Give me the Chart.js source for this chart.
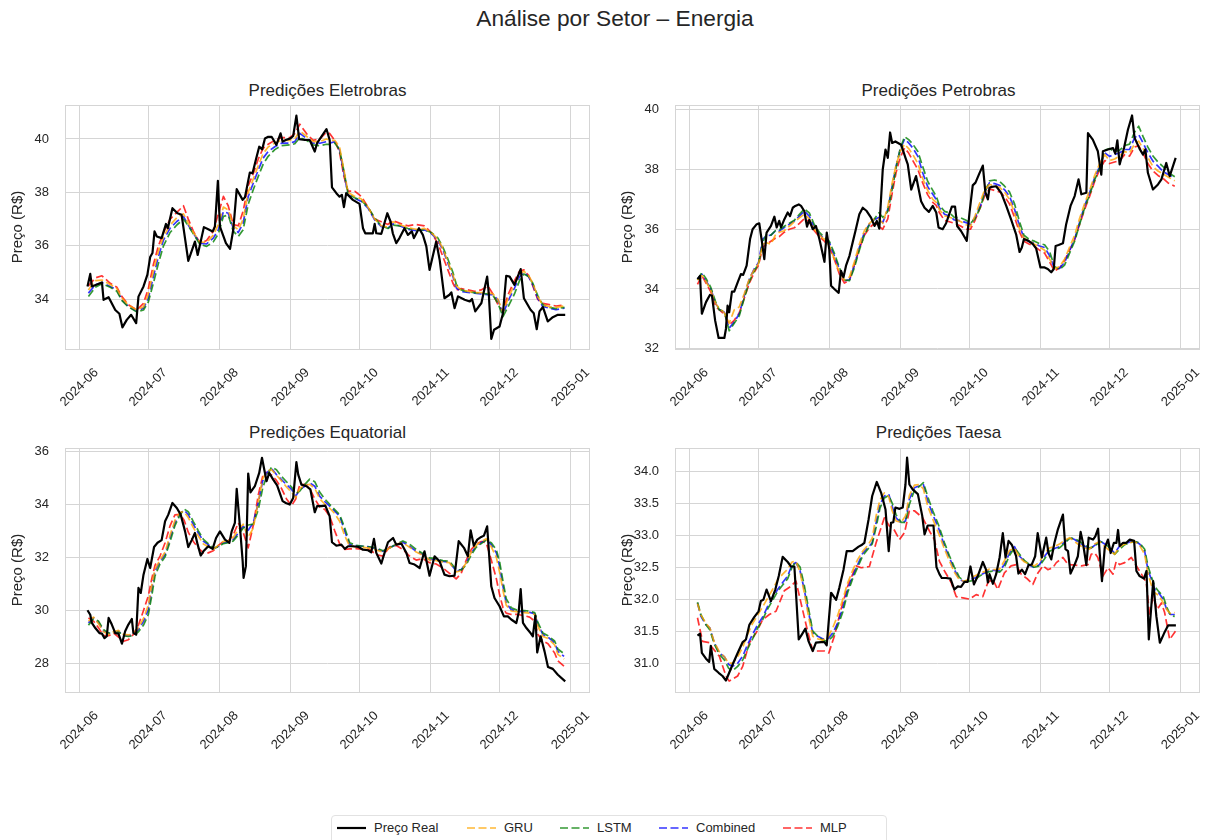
<!DOCTYPE html>
<html lang="pt-BR">
<head>
<meta charset="utf-8">
<title>Análise por Setor – Energia</title>
<script src="https://cdn.jsdelivr.net/npm/chart.js@4.4.1/dist/chart.umd.min.js"></script>
<style>
  body { margin: 0; width: 1210px; height: 840px; background: #fff; position: relative; overflow: hidden;
         font-family: "Liberation Sans", Arial, sans-serif; color: #262626; }
  #titulo { position: absolute; top: 5px; left: 10px; width: 1210px; text-align: center; font-size: 22.7px; }
  .subtitulo { position: absolute; width: 525px; text-align: center; font-size: 17px; }
  canvas { position: absolute; }
  #legenda { position: absolute; left: 331px; top: 815px; width: 556px; height: 40px; box-sizing: border-box;
             border: 1px solid #e2e2e2; border-radius: 4px; background: #fff; }
  .item { position: absolute; top: 4px; font-size: 13px; line-height: 16px; }
  .item svg { position: absolute; top: 6px; }
</style>
</head>
<body>
<div id="titulo">Análise por Setor – Energia</div>
<div class="subtitulo" style="left:65px; top:81px;">Predições Eletrobras</div>
<div class="subtitulo" style="left:676px; top:81px;">Predições Petrobras</div>
<div class="subtitulo" style="left:65px; top:423px;">Predições Equatorial</div>
<div class="subtitulo" style="left:676px; top:423px;">Predições Taesa</div>
<canvas id="g1" width="600" height="345" style="left:0; top:100px;"></canvas>
<canvas id="g2" width="600" height="345" style="left:610px; top:100px;"></canvas>
<canvas id="g3" width="600" height="345" style="left:0; top:443px;"></canvas>
<canvas id="g4" width="600" height="345" style="left:610px; top:443px;"></canvas>
<div id="legenda"></div>

<script>
// eixo x: dias desde 2024-06-01
const marcasMes = [0, 30, 61, 92, 122, 153, 183, 214];
const rotulosMes = ['2024-06', '2024-07', '2024-08', '2024-09', '2024-10', '2024-11', '2024-12', '2025-01'];

const ticksEletrobras = [34, 36, 38, 40];
const ticksPetrobras = [32, 34, 36, 38, 40];
const ticksEquatorial = [28, 30, 32, 34, 36];
const ticksTaesa = [31.0, 31.5, 32.0, 32.5, 33.0, 33.5, 34.0];

// ---------------- Eletrobras ----------------
const eletrobrasReal = [[3.6,34.48],[4.8,34.95],[5.5,34.48],[9.9,34.63],[10.6,33.98],[12.8,34.08],[15.7,33.6],[17.5,33.46],[18.8,32.95],[20.7,33.23],[22.6,33.42],[24.8,33.11],[25.8,34.1],[28,34.48],[29.7,34.92],[30.9,35.58],[31.9,35.73],[32.8,36.54],[33.8,36.35],[35.9,36.29],[37.8,36.82],[38.6,36.66],[40.6,37.41],[42.8,37.22],[44.6,37.16],[47.5,35.44],[50.4,36.16],[51.6,35.66],[54.3,36.7],[56.2,36.62],[58.1,36.54],[59.1,36.72],[60.4,38.43],[61.3,36.72],[63.9,36.1],[65.7,35.89],[67.1,36.6],[68.6,38.12],[71.2,37.72],[72.2,37.82],[74.3,38.74],[75.5,38.72],[77,39.24],[78.4,39.71],[79.7,39.61],[80.9,40.02],[82.3,40.08],[83.8,40.08],[85.9,39.78],[87.7,40.21],[88.6,39.9],[90,39.96],[92,40.02],[93.2,40.11],[94.6,40.87],[95.8,39.99],[98.3,39.96],[100.4,39.96],[102.6,39.53],[103.6,39.84],[105.5,40.09],[107.7,40.37],[109.1,39.96],[110.1,38.19],[112,37.97],[113.4,37.84],[114.4,37.91],[115.3,37.45],[116.3,37.97],[119.2,37.72],[122.1,37.57],[123.6,36.66],[124.6,36.47],[127.9,36.47],[128.7,36.82],[129.4,36.47],[131.6,36.45],[134.2,37.22],[135.6,36.91],[136.6,36.47],[138.1,36.1],[139.5,36.29],[141.7,36.66],[143.2,36.41],[144.9,36.54],[145.8,36.29],[148,36.66],[149.7,36.41],[151.2,35.98],[152.6,35.1],[155.5,36.16],[157,35.48],[159.1,34.04],[161.3,34.17],[162.1,34.26],[163.5,33.67],[165,34.11],[167.9,33.98],[170.1,33.92],[171.1,34.01],[172.5,33.55],[175.2,33.86],[177.7,34.85],[178.4,34.23],[179.5,32.52],[180.7,32.86],[183.1,32.98],[184.6,33.48],[186,34.88],[187.5,34.85],[189.6,34.54],[192.3,35.13],[193.7,34.04],[196.6,33.61],[198,33.48],[199.3,32.88],[200.5,33.55],[202,33.71],[204.1,33.17],[206.3,33.33],[208.5,33.42],[211.7,33.42]];
const eletrobrasGru = [[4,34.35],[7,34.7],[9.9,34.72],[13.5,34.55],[16.4,34.4],[18.6,34.05],[21.4,33.78],[25.1,33.6],[28,33.72],[30.1,34.2],[32.3,35.05],[34.5,35.8],[36.7,36.35],[39.6,36.78],[42.5,37.05],[45.4,37.2],[47.5,36.85],[49.7,36.5],[52.6,36.15],[55.5,36.12],[58.4,36.4],[60.6,36.8],[62.8,37.45],[64.9,37.35],[67.1,36.75],[69.3,36.6],[71.4,37.0],[73.6,38.0],[75.8,38.5],[78,39.0],[80.1,39.45],[82.3,39.7],[85.2,39.85],[88.1,39.95],[91.7,39.95],[93.9,40.0],[96.1,40.3],[99,40.1],[101.9,39.9],[104.8,39.9],[107.7,40.0],[109.1,39.95],[111.3,39.95],[113.4,39.7],[115.3,38.85],[117.1,38.0],[120,37.85],[122.9,37.75],[125.8,37.45],[128.7,37.0],[131.6,36.75],[134.5,36.7],[136.6,36.9],[139.5,36.8],[143.2,36.68],[146.8,36.62],[150.4,36.65],[153.3,36.5],[156.2,36.25],[158.4,35.9],[160.6,35.4],[162.8,34.9],[164.3,34.5],[166.4,34.35],[169.3,34.3],[172.2,34.25],[175.1,34.25],[178,34.25],[180.2,34.2],[182.4,34.0],[184.6,33.5],[186.7,34.0],[189.6,34.55],[191.8,34.95],[193.7,35.05],[195.7,34.9],[197.6,34.6],[199.7,34.1],[201.9,33.8],[204.8,33.72],[207.7,33.7],[211.4,33.75]];
const eletrobrasLstm = [[4,34.1],[7,34.45],[9.9,34.58],[13.5,34.45],[16.4,34.3],[18.6,33.95],[21.4,33.72],[25.1,33.52],[28,33.6],[30.1,33.9],[32.3,34.6],[34.5,35.35],[36.7,36.0],[39.6,36.5],[42.5,36.78],[45.4,37.0],[47.5,36.75],[49.7,36.45],[52.6,36.05],[55.5,35.98],[58.4,36.15],[60.6,36.45],[62.8,37.1],[64.9,37.15],[67.1,36.55],[69.3,36.35],[71.4,36.6],[73.6,37.55],[75.8,38.1],[78,38.6],[80.1,39.05],[82.3,39.35],[85.2,39.6],[88.1,39.75],[91.7,39.78],[93.9,39.82],[96.1,40.05],[99,39.95],[101.9,39.78],[104.8,39.75],[107.7,39.8],[109.1,39.8],[111.3,39.85],[113.4,39.6],[115.3,38.8],[117.1,37.95],[120,37.8],[122.9,37.7],[125.8,37.45],[128.7,37.05],[131.6,36.75],[134.5,36.65],[136.6,36.78],[139.5,36.75],[143.2,36.65],[146.8,36.6],[150.4,36.6],[153.3,36.5],[156.2,36.3],[158.4,35.95],[160.6,35.5],[162.8,35.0],[164.3,34.55],[166.4,34.35],[169.3,34.28],[172.2,34.25],[175.1,34.22],[178,34.2],[180.2,34.15],[182.4,33.85],[184.6,33.35],[186.7,33.7],[189.6,34.2],[191.8,34.7],[193.7,34.95],[195.7,34.85],[197.6,34.6],[199.7,34.15],[201.9,33.8],[204.8,33.7],[207.7,33.65],[211.4,33.7]];
const eletrobrasCombined = [[4,34.23],[7,34.54],[9.9,34.63],[13.5,34.48],[16.4,34.35],[18.6,33.98],[21.4,33.73],[25.1,33.55],[28,33.67],[30.1,34.04],[32.3,34.85],[34.5,35.6],[36.7,36.22],[39.6,36.66],[42.5,36.91],[45.4,37.1],[47.5,36.78],[49.7,36.47],[52.6,36.1],[55.5,36.07],[58.4,36.29],[60.6,36.6],[62.8,37.28],[64.9,37.22],[67.1,36.66],[69.3,36.5],[71.4,36.85],[73.6,37.84],[75.8,38.34],[78,38.84],[80.1,39.28],[82.3,39.53],[85.2,39.71],[88.1,39.84],[91.7,39.84],[93.9,39.9],[96.1,40.21],[99,40.02],[101.9,39.84],[104.8,39.84],[107.7,39.9],[109.1,39.84],[111.3,39.9],[113.4,39.59],[115.3,38.72],[117.1,37.91],[120,37.78],[122.9,37.66],[125.8,37.41],[128.7,36.97],[131.6,36.72],[134.5,36.66],[136.6,36.82],[139.5,36.75],[143.2,36.62],[146.8,36.57],[150.4,36.6],[153.3,36.47],[156.2,36.22],[158.4,35.85],[160.6,35.35],[162.8,34.85],[164.3,34.42],[166.4,34.29],[169.3,34.26],[172.2,34.23],[175.1,34.2],[178,34.17],[180.2,34.17],[182.4,33.98],[184.6,33.42],[186.7,33.92],[189.6,34.42],[191.8,34.85],[193.7,35.0],[195.7,34.85],[197.6,34.54],[199.7,34.04],[201.9,33.73],[204.8,33.67],[207.7,33.61],[211.4,33.67]];
const eletrobrasMlp = [[4,34.5],[7,34.8],[9.9,34.88],[13.5,34.6],[16.4,34.45],[18.6,34.1],[21.4,33.8],[25.1,33.6],[28,33.85],[30.1,34.4],[32.3,35.3],[34.5,36.0],[36.7,36.5],[39.6,37.0],[42.5,37.25],[45.4,37.5],[47.5,37.0],[49.7,36.55],[52.6,36.1],[55.5,36.2],[58.4,36.55],[60.6,37.2],[62.8,37.85],[64.9,37.5],[67.1,36.8],[69.3,36.75],[71.4,37.3],[73.6,38.25],[75.8,38.7],[78,39.25],[80.1,39.65],[82.3,39.8],[85.2,39.95],[88.1,40.05],[91.7,40.05],[93.9,40.2],[96.1,40.55],[99,40.2],[101.9,39.95],[104.8,40.0],[107.7,40.25],[109.1,40.2],[111.3,39.95],[113.4,39.5],[115.3,38.6],[117.1,38.05],[120,38.05],[122.9,37.85],[125.8,37.45],[128.7,37.0],[131.6,36.9],[134.5,36.8],[136.6,36.95],[139.5,36.85],[143.2,36.75],[146.8,36.8],[150.4,36.75],[153.3,36.5],[156.2,36.1],[158.4,35.6],[160.6,35.1],[162.8,34.6],[164.3,34.35],[166.4,34.4],[169.3,34.35],[172.2,34.3],[175.1,34.35],[178,34.5],[180.2,34.2],[182.4,33.8],[184.6,33.55],[186.7,34.15],[189.6,34.7],[191.8,35.05],[193.7,35.1],[195.7,34.9],[197.6,34.5],[199.7,34.0],[201.9,33.85],[204.8,33.8],[207.7,33.75],[211.4,33.78]];

// ---------------- Petrobras ----------------
const petrobrasReal = [[3.6,34.33],[4.7,34.44],[5.5,33.17],[7.3,33.56],[9,33.8],[9.9,33.78],[11.3,32.94],[12.8,32.36],[15.3,32.36],[16,32.67],[16.7,33.44],[17.4,33.22],[18.6,33.91],[19.6,33.91],[21.1,34.22],[22.5,34.5],[23.5,34.47],[25,34.78],[26.5,35.67],[27.6,36.0],[29.4,36.17],[30.5,36.2],[31.7,35.56],[32.7,35.0],[33.7,35.89],[35.6,36.11],[37.1,36.42],[38.1,36.06],[39.2,36.28],[40,36.06],[41.4,36.33],[42.9,36.56],[43.9,36.44],[45.1,36.72],[46.2,36.78],[47.7,36.83],[48.7,36.78],[50.1,36.61],[51.3,36.09],[52.3,36.31],[53.8,36.0],[55.2,36.11],[56.7,35.67],[58.9,34.91],[59.9,35.89],[61,35.33],[61.8,34.11],[63.2,34.0],[65.1,33.87],[66.1,34.61],[67.2,34.39],[68.3,34.78],[69.8,35.11],[71.2,35.56],[72.4,35.94],[74.1,36.5],[75.6,36.72],[77.3,36.61],[79.2,36.39],[80.7,36.11],[81.7,36.28],[82.8,36.02],[84.3,38.0],[85.5,38.67],[86.5,38.39],[87.5,39.24],[88.4,38.89],[89.8,38.94],[92.3,38.83],[94.2,38.39],[95.2,38.17],[96.7,37.33],[98.8,37.78],[101,36.94],[102.5,36.72],[104.4,36.58],[106.1,36.78],[107.6,36.56],[108.6,36.06],[110.4,36.0],[111.9,36.2],[114.4,36.76],[115.8,36.76],[116.7,36.11],[118.4,35.94],[120.9,35.61],[122.1,36.56],[123.5,37.47],[124.7,37.56],[126.4,37.87],[127.9,38.13],[129,37.24],[130.1,37.0],[130.8,37.39],[131.8,37.42],[133.7,37.44],[135.9,37.22],[138.1,36.78],[140.2,36.33],[142.4,35.83],[143.9,35.24],[144.9,35.39],[145.8,35.67],[147.8,35.61],[149.7,35.5],[151.1,35.36],[153,34.72],[154.8,34.72],[156.2,34.67],[157.7,34.56],[158.8,34.67],[159.6,35.44],[160.9,35.47],[162.8,35.53],[164.2,36.17],[166.1,36.78],[167.9,37.11],[169.6,37.67],[170.8,37.17],[173,37.22],[173.7,39.22],[175.8,39.0],[178,38.61],[179.5,37.83],[180.2,38.61],[182.4,38.67],[184.6,38.72],[185.6,38.53],[186.5,38.98],[187.5,38.17],[189.4,38.72],[191.1,39.33],[192.9,39.81],[194,39.06],[196.2,38.69],[197.7,38.5],[198.7,38.67],[199.8,37.89],[202,37.33],[204.2,37.5],[205.7,37.67],[207.8,38.22],[209.3,37.78],[211.9,38.39]];
const petrobrasGru = [[3.6,34.3],[5.5,34.45],[7.3,34.25],[9.4,33.95],[11.6,33.5],[13.1,33.35],[15.3,33.2],[17.4,32.85],[19.6,33.3],[21.8,33.4],[24,33.85],[26.2,34.35],[28.3,34.65],[30.2,34.85],[32,35.5],[33.7,35.55],[35.6,35.5],[37.5,35.8],[39.2,35.9],[41.4,35.95],[43.6,36.1],[45.8,36.25],[48,36.38],[50.1,36.5],[52.3,36.35],[54.5,36.0],[56.7,35.8],[58.9,35.65],[61,35.45],[63.2,35.0],[65.4,34.55],[67.6,34.3],[69.8,34.4],[71.9,34.9],[74.1,35.5],[76.3,35.95],[78.5,36.2],[80.7,36.35],[82.6,36.35],[84.3,36.2],[86.5,36.75],[88.4,37.55],[90.1,38.15],[91.9,38.6],[93.8,38.85],[95.6,38.7],[97.4,38.5],[99.6,38.2],[101.7,37.7],[103.9,37.3],[106.1,37.0],[107.6,36.9],[109,36.65],[111.2,36.45],[113.3,36.4],[115.5,36.35],[118.4,36.25],[120.6,36.15],[122.5,36.1],[124.5,36.45],[126.9,36.95],[128.6,37.3],[130.8,37.5],[133,37.45],[135.2,37.4],[137.3,37.25],[139.5,37.0],[141.7,36.55],[143.9,36.0],[145.8,35.7],[148.2,35.6],[150.4,35.5],[152.6,35.4],[154.8,35.3],[157,35.0],[159.1,34.68],[161.3,34.75],[163.5,35.0],[165.7,35.4],[167.9,35.8],[170,36.35],[172.2,36.85],[174.4,37.3],[176.6,37.8],[178.8,38.2],[181,38.5],[183.1,38.3],[185.3,38.35],[187.5,38.45],[189.7,38.6],[191.8,38.55],[194,38.85],[195.8,38.95],[197.7,38.7],[199.8,38.4],[202,38.1],[204.2,37.95],[206.4,37.85],[208.6,37.75],[211.5,37.62]];
const petrobrasLstm = [[3.6,34.3],[5.5,34.55],[7.3,34.35],[9.4,34.05],[11.6,33.55],[13.1,33.3],[15.3,33.25],[17.4,32.6],[19.6,32.85],[21.8,33.1],[24,33.7],[26.2,34.25],[28.3,34.6],[30.2,34.85],[32,35.55],[33.7,35.85],[35.6,35.8],[37.5,35.95],[39.2,35.98],[41.4,36.1],[43.6,36.2],[45.8,36.3],[48,36.5],[50.1,36.68],[52.3,36.55],[54.5,36.15],[56.7,35.9],[58.9,35.72],[61,35.6],[63.2,35.2],[65.4,34.72],[67.6,34.3],[69.8,34.28],[71.9,34.7],[74.1,35.3],[76.3,35.8],[78.5,36.15],[80.7,36.35],[82.6,36.55],[84.3,36.4],[86.5,36.6],[88.4,37.35],[90.1,38.05],[91.9,38.7],[93.8,39.1],[95.6,39.0],[97.4,38.85],[99.6,38.6],[101.7,38.1],[103.9,37.6],[106.1,37.3],[107.6,37.1],[109,36.8],[111.2,36.6],[113.3,36.55],[115.5,36.4],[118.4,36.38],[120.6,36.3],[122.5,36.2],[124.5,36.35],[126.9,36.75],[128.6,37.2],[130.8,37.62],[133,37.65],[135.2,37.6],[137.3,37.45],[139.5,37.25],[141.7,36.85],[143.9,36.25],[145.8,35.8],[148.2,35.65],[150.4,35.6],[152.6,35.52],[154.8,35.48],[157,35.25],[159.1,34.75],[161.3,34.65],[163.5,34.8],[165.7,35.2],[167.9,35.6],[170,36.15],[172.2,36.7],[174.4,37.15],[176.6,37.65],[178.8,38.05],[181,38.65],[183.1,38.7],[185.3,38.6],[187.5,38.65],[189.7,38.8],[191.8,38.85],[194,39.25],[195.8,39.45],[197.7,39.1],[199.8,38.75],[202,38.45],[204.2,38.25],[206.4,38.1],[208.6,37.9],[211.5,37.76]];
const petrobrasCombined = [[3.6,34.33],[5.5,34.5],[7.3,34.28],[9.4,34.0],[11.6,33.5],[13.1,33.31],[15.3,33.22],[17.4,32.69],[19.6,32.89],[21.8,33.17],[24,33.78],[26.2,34.33],[28.3,34.67],[30.2,34.89],[32,35.67],[33.7,35.78],[35.6,35.8],[37.5,35.94],[39.2,35.94],[41.4,36.06],[43.6,36.17],[45.8,36.28],[48,36.44],[50.1,36.61],[52.3,36.44],[54.5,36.06],[56.7,35.83],[58.9,35.67],[61,35.56],[63.2,35.11],[65.4,34.67],[67.6,34.28],[69.8,34.31],[71.9,34.78],[74.1,35.39],[76.3,35.89],[78.5,36.17],[80.7,36.33],[82.6,36.39],[84.3,36.22],[86.5,36.67],[88.4,37.44],[90.1,38.11],[91.9,38.67],[93.8,39.02],[95.6,38.89],[97.4,38.72],[99.6,38.44],[101.7,37.89],[103.9,37.42],[106.1,37.17],[107.6,37.0],[109,36.72],[111.2,36.5],[113.3,36.44],[115.5,36.31],[118.4,36.28],[120.6,36.22],[122.5,36.17],[124.5,36.39],[126.9,36.8],[128.6,37.22],[130.8,37.56],[133,37.53],[135.2,37.47],[137.3,37.33],[139.5,37.11],[141.7,36.67],[143.9,36.11],[145.8,35.72],[148.2,35.58],[150.4,35.53],[152.6,35.44],[154.8,35.39],[157,35.11],[159.1,34.69],[161.3,34.69],[163.5,34.89],[165.7,35.28],[167.9,35.67],[170,36.22],[172.2,36.78],[174.4,37.22],[176.6,37.72],[178.8,38.11],[181,38.56],[183.1,38.44],[185.3,38.5],[187.5,38.56],[189.7,38.67],[191.8,38.67],[194,39.06],[195.8,39.17],[197.7,38.89],[199.8,38.56],[202,38.28],[204.2,38.11],[206.4,37.94],[208.6,37.83],[211.5,37.72]];
const petrobrasMlp = [[3.6,34.15],[5.5,34.45],[7.3,34.2],[9.4,33.9],[11.6,33.4],[13.1,33.3],[15.3,33.15],[17.4,32.8],[19.6,32.95],[21.8,33.2],[24,33.7],[26.2,34.2],[28.3,34.55],[30.2,34.8],[32,35.4],[33.7,35.5],[35.6,35.6],[37.5,35.7],[39.2,35.75],[41.4,35.9],[43.6,36.0],[45.8,36.05],[48,36.2],[50.1,36.35],[52.3,36.25],[54.5,35.95],[56.7,35.75],[58.9,35.6],[61,35.4],[63.2,35.0],[65.4,34.5],[67.6,34.2],[69.8,34.3],[71.9,34.8],[74.1,35.35],[76.3,35.8],[78.5,36.05],[80.7,36.2],[82.6,36.1],[84.3,36.0],[86.5,36.35],[88.4,37.2],[90.1,37.9],[91.9,38.4],[93.8,38.72],[95.6,38.55],[97.4,38.3],[99.6,38.0],[101.7,37.55],[103.9,37.15],[106.1,36.9],[107.6,36.8],[109,36.55],[111.2,36.3],[113.3,36.25],[115.5,36.2],[118.4,36.1],[120.6,36.0],[122.5,36.0],[124.5,36.3],[126.9,36.75],[128.6,37.1],[130.8,37.35],[133,37.3],[135.2,37.25],[137.3,37.1],[139.5,36.85],[141.7,36.4],[143.9,35.9],[145.8,35.6],[148.2,35.5],[150.4,35.42],[152.6,35.3],[154.8,35.2],[157,34.9],[159.1,34.6],[161.3,34.7],[163.5,34.95],[165.7,35.3],[167.9,35.65],[170,36.15],[172.2,36.65],[174.4,37.1],[176.6,37.6],[178.8,38.0],[181,38.3],[183.1,38.2],[185.3,38.25],[187.5,38.3],[189.7,38.5],[191.8,38.45],[194,38.75],[195.8,38.8],[197.7,38.55],[199.8,38.2],[202,37.95],[204.2,37.8],[206.4,37.7],[208.6,37.55],[211.5,37.44]];

// ---------------- Equatorial ----------------
const equatorialReal = [[3.6,30.01],[4.8,29.84],[5.5,29.53],[7,29.34],[8.8,29.15],[9.9,29.13],[11,28.96],[12,29.03],[12.8,29.72],[14.2,29.47],[15.7,29.15],[17.1,29.13],[18.6,28.75],[20,29.22],[21.4,29.47],[22.9,29.68],[23.6,29.15],[24.8,29.09],[25.8,30.85],[26.8,30.66],[28,31.35],[29.7,31.94],[30.9,31.6],[32.6,32.39],[34.1,32.55],[35.9,32.65],[37.4,33.36],[38.8,33.61],[40.6,34.05],[42.5,33.86],[44.2,33.61],[46.1,32.98],[47.5,32.39],[49,32.65],[50.4,32.92],[51.6,32.48],[52.9,32.07],[54.1,32.23],[56.2,32.42],[58.1,32.32],[59.6,32.73],[61.3,32.98],[63.5,32.67],[65.4,32.55],[66.4,32.98],[67.8,33.3],[68.6,34.58],[70,33.17],[71.2,31.85],[71.6,31.23],[72.6,31.67],[73.6,35.16],[74.6,34.45],[76.5,34.68],[78.4,35.18],[79.6,35.75],[80.9,35.18],[81.6,34.87],[82.8,35.18],[84.5,34.93],[86.2,34.71],[88.6,34.12],[90,34.05],[91.7,33.99],[93.2,34.24],[94.6,35.59],[95.4,35.12],[96.8,34.74],[99,34.68],[100.7,34.56],[102.6,33.7],[103.6,33.93],[105.5,33.93],[107.2,33.95],[109.1,33.55],[110.1,32.57],[112,32.44],[114.2,32.48],[115.7,32.32],[117.1,32.42],[119.2,32.42],[121.7,32.39],[123.6,32.29],[125.8,32.27],[127.2,32.19],[128.4,32.7],[129.4,32.17],[131.6,31.77],[133,32.17],[134.5,32.57],[136.7,32.73],[138.1,32.48],[140.3,32.52],[142.5,32.17],[143.9,31.79],[146.1,31.73],[148.3,31.6],[150.4,32.23],[152.6,31.31],[154.8,32.04],[157,31.85],[159.1,31.35],[161.3,31.29],[163.5,31.31],[165.3,32.61],[167.6,32.36],[169.3,32.04],[170.5,33.02],[171.9,32.44],[173.4,32.67],[175.1,32.77],[176.3,32.82],[177.7,33.17],[178.8,31.79],[179.5,30.91],[180.9,30.47],[183.1,30.16],[185,29.78],[186.7,29.78],[188.2,29.66],[190.4,29.53],[191.4,29.91],[192.3,30.81],[193.3,29.53],[194.8,29.34],[196.6,29.15],[197.6,29.03],[198.7,29.81],[199.5,28.42],[201,29.03],[202.7,28.46],[204.2,27.87],[206.3,27.8],[208.5,27.58],[211.7,27.33]];
const equatorialGru = [[4,29.6],[6.2,29.75],[8.4,29.5],[10.6,29.2],[12.8,29.1],[14.9,29.2],[17.1,29.25],[19.3,29.1],[21.4,29.08],[23.6,29.12],[25.8,29.35],[28,29.7],[30.1,30.2],[31.6,30.95],[33,31.55],[35.2,31.9],[37.4,32.2],[39.6,32.85],[41.7,33.4],[43.9,33.7],[45.7,33.72],[47.5,33.5],[49.7,33.12],[51.9,32.8],[54.1,32.5],[56.2,32.4],[58.4,32.3],[60.6,32.45],[62.8,32.6],[64.9,32.62],[67.1,32.75],[69.3,33.05],[71.4,33.25],[73.6,32.75],[75.8,33.1],[78,34.1],[79.9,34.95],[81.6,35.25],[83.8,35.3],[85.9,35.1],[88.1,34.88],[90.3,34.65],[92.5,34.45],[94.3,34.25],[96.1,34.6],[98.3,34.72],[100.4,34.75],[102.6,34.6],[104.8,34.2],[107,34.0],[109.1,33.85],[111.3,33.65],[113.5,33.35],[115.7,32.8],[117.8,32.42],[120.7,32.4],[123.6,32.38],[126.5,32.35],[129.4,32.28],[132.3,32.2],[135.2,32.35],[138.1,32.5],[141,32.55],[143.9,32.38],[146.8,32.2],[149.7,32.08],[152.6,31.9],[155.5,31.88],[158.4,31.82],[161.3,31.8],[164.2,31.45],[166.4,31.5],[168.6,31.8],[170.8,32.2],[172.9,32.45],[175.1,32.6],[177.3,32.7],[179.5,32.4],[181.7,32.0],[183.1,31.45],[184.6,30.75],[186,30.2],[188.2,29.98],[191.1,29.95],[194,29.92],[196.2,29.9],[198.4,29.85],[199.8,29.4],[202,29.02],[204.2,28.95],[207.1,28.7],[208.5,28.35],[211.2,28.17]];
const equatorialLstm = [[4,29.45],[6.2,29.68],[8.4,29.6],[10.6,29.28],[12.8,29.15],[14.9,29.15],[17.1,29.2],[19.3,29.05],[21.4,29.02],[23.6,29.05],[25.8,29.2],[28,29.45],[30.1,29.85],[31.6,30.55],[33,31.3],[35.2,31.75],[37.4,32.02],[39.6,32.6],[41.7,33.2],[43.9,33.6],[45.7,33.82],[47.5,33.72],[49.7,33.35],[51.9,33.0],[54.1,32.68],[56.2,32.52],[58.4,32.35],[60.6,32.4],[62.8,32.52],[64.9,32.55],[67.1,32.62],[69.3,32.85],[71.4,33.1],[73.6,33.22],[75.8,33.25],[78,33.8],[79.9,34.6],[81.6,35.05],[83.8,35.4],[85.9,35.3],[88.1,35.05],[90.3,34.85],[92.5,34.65],[94.3,34.4],[96.1,34.5],[98.3,34.75],[100.4,34.95],[102.6,34.85],[104.8,34.45],[107,34.2],[109.1,34.0],[111.3,33.8],[113.5,33.6],[115.7,33.1],[117.8,32.55],[120.7,32.45],[123.6,32.42],[126.5,32.4],[129.4,32.35],[132.3,32.25],[135.2,32.35],[138.1,32.5],[141,32.62],[143.9,32.5],[146.8,32.3],[149.7,32.15],[152.6,31.98],[155.5,31.95],[158.4,31.88],[161.3,31.85],[164.2,31.55],[166.4,31.52],[168.6,31.72],[170.8,32.1],[172.9,32.38],[175.1,32.52],[177.3,32.65],[179.5,32.55],[181.7,32.28],[183.1,31.85],[184.6,31.1],[186,30.45],[188.2,30.1],[191.1,30.0],[194,30.0],[196.2,29.97],[198.4,29.92],[199.8,29.55],[202,29.15],[204.2,29.05],[207.1,28.85],[208.5,28.55],[211.2,28.37]];
const equatorialCombined = [[4,29.53],[6.2,29.72],[8.4,29.55],[10.6,29.22],[12.8,29.13],[14.9,29.18],[17.1,29.22],[19.3,29.05],[21.4,29.05],[23.6,29.09],[25.8,29.28],[28,29.59],[30.1,30.03],[31.6,30.79],[33,31.48],[35.2,31.85],[37.4,32.11],[39.6,32.73],[41.7,33.3],[43.9,33.65],[45.7,33.78],[47.5,33.61],[49.7,33.24],[51.9,32.92],[54.1,32.61],[56.2,32.48],[58.4,32.32],[60.6,32.42],[62.8,32.55],[64.9,32.57],[67.1,32.67],[69.3,32.92],[71.4,33.17],[73.6,33.02],[75.8,33.3],[78,34.05],[79.9,34.87],[81.6,35.18],[83.8,35.35],[85.9,35.12],[88.1,34.93],[90.3,34.74],[92.5,34.56],[94.3,34.3],[96.1,34.56],[98.3,34.68],[100.4,34.81],[102.6,34.68],[104.8,34.3],[107,34.1],[109.1,33.93],[111.3,33.74],[113.5,33.55],[115.7,32.98],[117.8,32.48],[120.7,32.44],[123.6,32.42],[126.5,32.39],[129.4,32.32],[132.3,32.23],[135.2,32.36],[138.1,32.48],[141,32.57],[143.9,32.42],[146.8,32.23],[149.7,32.11],[152.6,31.92],[155.5,31.92],[158.4,31.85],[161.3,31.82],[164.2,31.48],[166.4,31.54],[168.6,31.79],[170.8,32.17],[172.9,32.42],[175.1,32.55],[177.3,32.67],[179.5,32.48],[181.7,32.17],[183.1,31.67],[184.6,30.91],[186,30.28],[188.2,30.03],[191.1,29.97],[194,29.97],[196.2,29.93],[198.4,29.88],[199.8,29.47],[202,29.09],[204.2,29.0],[207.1,28.78],[208.5,28.46],[211.2,28.27]];
const equatorialMlp = [[4,29.72],[6.2,29.6],[8.4,29.35],[10.6,29.05],[12.8,29.05],[14.9,29.15],[17.1,29.0],[19.3,28.84],[21.4,28.9],[23.6,29.1],[25.8,29.45],[28,30.0],[30.1,30.55],[31.6,31.2],[33,31.7],[35.2,32.05],[37.4,32.55],[39.6,33.2],[41.7,33.6],[43.9,33.62],[45.7,33.4],[47.5,32.95],[49.7,32.6],[51.9,32.35],[54.1,32.17],[56.2,32.17],[58.4,32.25],[60.6,32.45],[62.8,32.6],[64.9,32.62],[67.1,32.85],[69.3,33.3],[71.4,32.95],[73.6,32.36],[75.8,33.2],[78,34.35],[79.9,35.05],[81.6,35.2],[83.8,35.1],[85.9,34.9],[88.1,34.6],[90.3,34.2],[92.5,33.95],[94.3,34.2],[96.1,34.74],[98.3,34.75],[100.4,34.6],[102.6,34.2],[104.8,33.9],[107,33.8],[109.1,33.55],[111.3,33.0],[113.5,32.5],[115.7,32.3],[117.8,32.32],[120.7,32.33],[123.6,32.3],[126.5,32.3],[129.4,32.1],[132.3,32.05],[135.2,32.4],[138.1,32.45],[141,32.3],[143.9,32.05],[146.8,31.9],[149.7,31.95],[152.6,31.8],[155.5,31.75],[158.4,31.6],[161.3,31.4],[164.2,31.19],[166.4,31.4],[168.6,31.9],[170.8,32.3],[172.9,32.5],[175.1,32.6],[177.3,32.55],[179.5,31.9],[181.7,31.2],[183.1,30.6],[184.6,30.1],[186,29.9],[188.2,29.85],[191.1,29.85],[194,29.8],[196.2,29.75],[198.4,29.6],[199.8,29.1],[202,28.85],[204.2,28.75],[207.1,28.4],[208.5,28.1],[211.2,27.9]];

// ---------------- Taesa ----------------
const taesaReal = [[3.6,31.43],[4.7,31.46],[5.5,31.16],[7.3,31.07],[8.7,31.02],[9.4,31.27],[10.9,30.91],[12.8,30.85],[14.5,30.8],[16,30.73],[17.4,30.85],[18.9,30.98],[21.1,31.16],[23.3,31.33],[24.7,31.37],[26.2,31.6],[28.3,31.72],[30.2,31.81],[31.2,31.97],[32.3,31.99],[33.7,32.15],[35.6,31.97],[37.5,32.15],[39,32.36],[40.7,32.66],[42.9,32.58],[44.3,32.51],[45.8,32.51],[46.5,32.1],[47.7,31.37],[49.1,31.45],[50.6,31.54],[52,31.34],[53.8,31.19],[55.2,31.32],[57.4,31.33],[58.9,31.33],[59.9,31.28],[61.8,32.1],[64,31.99],[65.4,32.18],[67.2,32.46],[68.6,32.75],[71.2,32.75],[73.8,32.82],[75.3,32.85],[76.3,32.88],[78.1,33.24],[79.7,33.61],[81.7,33.83],[83.6,33.66],[85.5,33.4],[86.9,32.75],[87.9,33.19],[88.9,33.2],[89.8,33.43],[91.6,33.41],[93,33.43],[94.2,33.79],[94.9,34.21],[95.9,33.79],[97.4,33.71],[99.6,33.64],[101.5,33.3],[102.5,33.01],[103.9,33.15],[106.4,33.15],[107.7,32.5],[109,32.39],[110,32.33],[111.9,32.33],[113.8,32.32],[115.5,32.15],[117,32.2],[118.4,32.19],[119.9,32.27],[121.3,32.27],[122.5,32.51],[124,32.23],[125.7,32.36],[127.9,32.58],[129.3,32.46],[130.1,32.26],[130.8,32.39],[132.3,32.24],[133.7,32.39],[135.2,32.65],[136.6,33.03],[137.8,32.65],[139.1,32.91],[140.5,32.85],[142.4,32.67],[143.4,32.4],[144.9,32.46],[146.3,32.39],[147.8,32.53],[149.2,32.54],[150.7,32.67],[151.8,33.03],[153.6,32.65],[155.5,32.96],[156.5,32.72],[157.7,32.62],[159.1,32.88],[160.6,33.09],[162.8,33.32],[163.9,32.78],[165,32.75],[166.1,32.4],[167.9,32.54],[169.3,32.67],[170.5,33.05],[171.5,32.88],[173,32.53],[174,32.96],[175.9,32.93],[176.9,32.98],[178.1,33.1],[178.8,32.72],[179.8,32.28],[181,32.8],[182.4,32.93],[183.6,32.72],[185,32.88],[186.1,32.88],[186.8,33.08],[187.5,32.83],[189,32.88],[190.4,32.88],[191.9,32.93],[193.8,32.91],[194.8,32.44],[196.2,32.36],[198.1,32.32],[199.2,32.44],[200.2,31.37],[202.1,32.28],[203.5,31.73],[205,31.32],[206.9,31.47],[208.6,31.59],[210.4,31.59],[212,31.59]];
const taesaGru = [[3.6,31.93],[5.1,31.75],[7.3,31.62],[9,31.55],[10.9,31.33],[13.1,31.18],[15.3,31.1],[17.2,31.0],[18.9,31.0],[21.1,31.1],[23.3,31.25],[25.4,31.45],[27.6,31.62],[29.8,31.75],[32,31.88],[34.2,32.02],[36.3,32.15],[38.5,32.3],[40.7,32.39],[42.9,32.47],[44.8,32.58],[46.5,32.59],[48.3,32.42],[50.1,32.1],[52,31.72],[53.8,31.42],[56,31.38],[58.1,31.36],[60.3,31.4],[62.5,31.55],[64.7,31.75],[66.9,32.0],[69,32.25],[71.2,32.45],[73.4,32.62],[75.6,32.75],[77.8,32.84],[79.7,32.95],[81.4,33.3],[83.1,33.55],[85,33.66],[86.9,33.6],[88.4,33.38],[90.1,33.22],[92.3,33.2],[94.2,33.3],[95.9,33.62],[98.1,33.78],[100.3,33.79],[102,33.72],[103.9,33.45],[106.1,33.25],[108.7,33.02],[111.2,32.78],[113.3,32.6],[115.5,32.42],[117.7,32.3],[119.9,32.28],[122.1,32.32],[124.3,32.36],[126.5,32.4],[128.6,32.43],[130.8,32.47],[133,32.46],[135.2,32.47],[137.3,32.6],[139.5,32.76],[141.7,32.8],[143.9,32.65],[146.1,32.58],[148.2,32.55],[150.4,32.52],[152.6,32.58],[154.8,32.72],[157,32.8],[159.1,32.82],[161.3,32.86],[163.5,32.92],[165.7,32.96],[167.9,32.9],[170,32.84],[172.2,32.8],[174.4,32.78],[176.6,32.86],[178.8,32.9],[181,32.82],[183.1,32.76],[185.3,32.7],[187.5,32.82],[189.7,32.86],[191.8,32.88],[194,32.9],[196.2,32.84],[198.4,32.7],[199.8,32.4],[201.3,32.22],[202.8,32.1],[204.5,32.06],[206.4,31.95],[208.3,31.82],[209.8,31.77],[211.5,31.79]];
const taesaLstm = [[3.6,31.95],[5.1,31.76],[7.3,31.6],[9,31.52],[10.9,31.3],[13.1,31.14],[15.3,31.05],[17.2,30.92],[18.9,30.88],[21.1,30.95],[23.3,31.05],[25.4,31.22],[27.6,31.38],[29.8,31.55],[32,31.68],[34.2,31.85],[36.3,31.98],[38.5,32.12],[40.7,32.22],[42.9,32.32],[44.8,32.5],[46.5,32.58],[48.3,32.5],[50.1,32.22],[52,31.85],[53.8,31.5],[56,31.42],[58.1,31.36],[60.3,31.34],[62.5,31.42],[64.7,31.58],[66.9,31.8],[69,32.1],[71.2,32.32],[73.4,32.5],[75.6,32.68],[77.8,32.78],[79.7,32.86],[81.4,33.12],[83.1,33.42],[85,33.58],[86.9,33.62],[88.4,33.5],[90.1,33.32],[92.3,33.2],[94.2,33.2],[95.9,33.48],[98.1,33.7],[100.3,33.76],[102,33.82],[103.9,33.6],[106.1,33.38],[108.7,33.15],[111.2,32.88],[113.3,32.68],[115.5,32.5],[117.7,32.34],[119.9,32.28],[122.1,32.28],[124.3,32.3],[126.5,32.36],[128.6,32.4],[130.8,32.43],[133,32.44],[135.2,32.42],[137.3,32.5],[139.5,32.68],[141.7,32.8],[143.9,32.7],[146.1,32.6],[148.2,32.54],[150.4,32.5],[152.6,32.52],[154.8,32.63],[157,32.75],[159.1,32.78],[161.3,32.8],[163.5,32.87],[165.7,32.95],[167.9,32.95],[170,32.9],[172.2,32.85],[174.4,32.8],[176.6,32.82],[178.8,32.9],[181,32.88],[183.1,32.8],[185.3,32.7],[187.5,32.78],[189.7,32.85],[191.8,32.88],[194,32.9],[196.2,32.88],[198.4,32.78],[199.8,32.52],[201.3,32.35],[202.8,32.2],[204.5,32.12],[206.4,32.05],[208.3,31.85],[209.8,31.74],[211.5,31.73]];
const taesaCombined = [[3.6,31.94],[5.1,31.73],[7.3,31.6],[9,31.55],[10.9,31.32],[13.1,31.16],[15.3,31.1],[17.2,30.98],[18.9,30.95],[21.1,31.0],[23.3,31.11],[25.4,31.29],[27.6,31.45],[29.8,31.6],[32,31.72],[34.2,31.89],[36.3,32.02],[38.5,32.15],[40.7,32.26],[42.9,32.36],[44.8,32.54],[46.5,32.57],[48.3,32.44],[50.1,32.15],[52,31.79],[53.8,31.47],[56,31.42],[58.1,31.38],[60.3,31.38],[62.5,31.47],[64.7,31.63],[66.9,31.86],[69,32.15],[71.2,32.36],[73.4,32.54],[75.6,32.72],[77.8,32.8],[79.7,32.88],[81.4,33.19],[83.1,33.48],[85,33.61],[86.9,33.64],[88.4,33.45],[90.1,33.27],[92.3,33.19],[94.2,33.22],[95.9,33.56],[98.1,33.74],[100.3,33.77],[102,33.79],[103.9,33.53],[106.1,33.32],[108.7,33.1],[111.2,32.83],[113.3,32.65],[115.5,32.46],[117.7,32.31],[119.9,32.27],[122.1,32.3],[124.3,32.33],[126.5,32.37],[128.6,32.41],[130.8,32.45],[133,32.45],[135.2,32.44],[137.3,32.54],[139.5,32.72],[141.7,32.82],[143.9,32.67],[146.1,32.59],[148.2,32.53],[150.4,32.49],[152.6,32.54],[154.8,32.67],[157,32.77],[159.1,32.79],[161.3,32.82],[163.5,32.89],[165.7,32.96],[167.9,32.93],[170,32.88],[172.2,32.83],[174.4,32.78],[176.6,32.84],[178.8,32.91],[181,32.86],[183.1,32.8],[185.3,32.72],[187.5,32.83],[189.7,32.87],[191.8,32.89],[194,32.91],[196.2,32.86],[198.4,32.75],[199.8,32.46],[201.3,32.31],[202.8,32.15],[204.5,32.1],[206.4,32.0],[208.3,31.81],[209.8,31.76],[211.5,31.76]];
const taesaMlp = [[3.6,31.71],[5.8,31.34],[8.7,31.32],[9.4,31.27],[13.1,31.11],[16,30.8],[17.4,30.72],[21.1,30.8],[23.3,30.95],[26.2,31.32],[29.1,31.47],[32,31.68],[34.9,31.76],[37.8,31.81],[41.4,32.13],[44.3,32.2],[46.5,32.28],[48.3,32.0],[50.9,31.6],[53.8,31.19],[56.7,31.19],[58.9,31.19],[60.8,31.16],[63.2,31.42],[66.1,31.84],[69,32.2],[72.7,32.52],[74.9,32.49],[78.5,32.51],[81.4,32.88],[85,33.27],[87.2,33.14],[89,33.1],[91.6,32.93],[93.8,33.04],[95.9,33.38],[98.1,33.38],[101.7,33.27],[104.7,33.06],[106.8,32.93],[109,32.59],[111.2,32.44],[114.1,32.26],[116.3,32.04],[119.2,32.02],[122.1,32.0],[125,32.07],[127.9,32.04],[130.1,32.26],[132.2,32.31],[134.4,32.15],[137.3,32.41],[140.2,32.52],[142.4,32.54],[144.6,32.39],[147.5,32.31],[149.7,32.23],[151.9,32.41],[154.1,32.52],[156.2,32.46],[158.4,32.49],[159.9,32.57],[162.8,32.65],[165,32.54],[167.9,32.53],[170.8,32.52],[173.7,32.54],[175.1,32.7],[176.6,32.72],[178,32.65],[180.2,32.36],[182.4,32.49],[184.6,32.39],[186,32.59],[187.5,32.54],[189.7,32.57],[192.6,32.65],[194.8,32.52],[197,32.39],[199.1,32.26],[200.6,31.73],[202,32.05],[203.9,31.84],[205.7,31.94],[207.1,31.79],[209.3,31.37],[211.8,31.5]];

// ---------------- estilos e montagem ----------------
const estiloSeries = [
  { label: 'Preço Real', cor: '#000000', largura: 2.2, tracejado: [] },
  { label: 'GRU', cor: 'rgba(255,165,0,0.8)', largura: 1.7, tracejado: [8, 3.5] },
  { label: 'LSTM', cor: 'rgba(0,128,0,0.8)', largura: 1.7, tracejado: [8, 3.5] },
  { label: 'Combined', cor: 'rgba(0,0,255,0.8)', largura: 1.7, tracejado: [8, 3.5] },
  { label: 'MLP', cor: 'rgba(255,0,0,0.8)', largura: 1.7, tracejado: [8, 3.5] }
];

const paineis = [
  { id: 'g1', series: [eletrobrasReal, eletrobrasGru, eletrobrasLstm, eletrobrasCombined, eletrobrasMlp], yMin: 32.14, yMax: 41.27, ticks: ticksEletrobras, casas: 0 },
  { id: 'g2', series: [petrobrasReal, petrobrasGru, petrobrasLstm, petrobrasCombined, petrobrasMlp], yMin: 31.99, yMax: 40.16, ticks: ticksPetrobras, casas: 0 },
  { id: 'g3', series: [equatorialReal, equatorialGru, equatorialLstm, equatorialCombined, equatorialMlp], yMin: 26.93, yMax: 36.12, ticks: ticksEquatorial, casas: 0 },
  { id: 'g4', series: [taesaReal, taesaGru, taesaLstm, taesaCombined, taesaMlp], yMin: 30.55, yMax: 34.36, ticks: ticksTaesa, casas: 1 }
];

const corTexto = '#262626';
const corGrade = '#d5d5d5';
const fonte = 'Liberation Sans';

// moldura cinza dos quatro lados do gráfico
const moldura = {
  id: 'moldura',
  afterDraw(chart) {
    const a = chart.chartArea;
    const ctx = chart.ctx;
    ctx.save();
    ctx.strokeStyle = corGrade;
    ctx.lineWidth = 1;
    ctx.strokeRect(Math.round(a.left) + 0.5, Math.round(a.top) + 0.5, Math.round(a.width) - 1, Math.round(a.height));
    ctx.restore();
  }
};

// tamanhos fixos dos eixos, sem o recuo automático dos rótulos
function fixarEixo(s, medida, valor) {
  s[medida] = valor;
  s.paddingTop = 0;
  s.paddingBottom = 0;
  s.paddingLeft = 0;
  s.paddingRight = 0;
}

function criarGrafico(p) {
  const ctx = document.getElementById(p.id).getContext('2d');
  new Chart(ctx, {
    type: 'line',
    data: {
      datasets: p.series.map((s, i) => ({
        label: estiloSeries[i].label,
        data: s.map(([x, y]) => ({ x, y })),
        borderColor: estiloSeries[i].cor,
        borderWidth: estiloSeries[i].largura,
        borderDash: estiloSeries[i].tracejado,
        borderJoinStyle: 'round',
        pointRadius: 0,
        tension: 0,
        fill: false
      }))
    },
    options: {
      responsive: false,
      animation: false,
      devicePixelRatio: 1,
      layout: { autoPadding: false, padding: { top: 5, right: 10, left: 0, bottom: 0 } },
      plugins: { legend: { display: false }, tooltip: { enabled: false } },
      scales: {
        x: {
          type: 'linear',
          min: -6.2,
          max: 222.5,
          afterBuildTicks: s => { s.ticks = marcasMes.map(v => ({ value: v })); },
          afterFit: s => fixarEixo(s, 'height', 96),
          grid: { color: corGrade, lineWidth: 1, drawTicks: false },
          border: { display: false },
          ticks: {
            autoSkip: false,
            minRotation: 45,
            maxRotation: 45,
            padding: 16,
            labelOffset: 17,
            color: corTexto,
            font: { family: fonte, size: 13 },
            callback: v => rotulosMes[marcasMes.indexOf(v)]
          }
        },
        y: {
          min: p.yMin,
          max: p.yMax,
          afterBuildTicks: s => { s.ticks = p.ticks.map(v => ({ value: v })); },
          afterFit: s => fixarEixo(s, 'width', 65),
          grid: { color: corGrade, lineWidth: 1, drawTicks: false },
          border: { display: false },
          ticks: {
            padding: 16,
            color: corTexto,
            font: { family: fonte, size: 13 },
            callback: v => v.toFixed(p.casas)
          },
          title: {
            display: true,
            text: 'Preço (R$)',
            color: corTexto,
            font: { family: fonte, size: 15 },
            padding: { top: 9, bottom: 0 }
          }
        }
      }
    },
    plugins: [moldura]
  });
}

paineis.forEach(criarGrafico);

// legenda comum no rodapé
const posLegenda = [5, 135, 228, 327, 451];
const legenda = document.getElementById('legenda');
estiloSeries.forEach((e, i) => {
  const item = document.createElement('div');
  item.className = 'item';
  item.style.left = posLegenda[i] + 'px';
  const dash = e.tracejado.length ? ` stroke-dasharray="${e.tracejado.join(' ')}"` : '';
  item.innerHTML = `<svg width="30" height="4"><line x1="0" y1="2" x2="29" y2="2" stroke="${e.cor}" stroke-width="${e.largura}"${dash}/></svg>` +
    `<span style="position:absolute; left:37px; white-space:nowrap;">${e.label}</span>`;
  legenda.appendChild(item);
});
</script>
</body>
</html>
